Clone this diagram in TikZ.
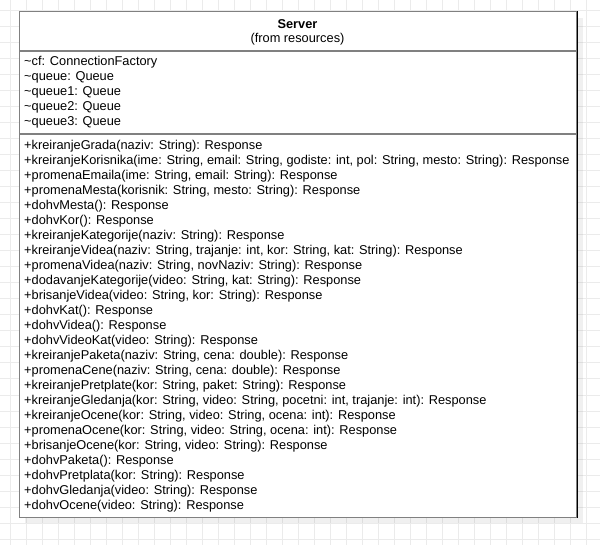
\documentclass[tikz,border=0pt]{standalone}
\usepackage{fontspec}
\setmainfont{Liberation Sans}
\begin{document}
\begin{tikzpicture}[x=1pt,y=-1pt,
  gridline/.style={draw=black!8, line width=1pt},
  classbox/.style={draw=black!50, line width=1.4pt, fill=white, inner sep=0pt, anchor=north west},
  sepline/.style={draw=black!50, line width=1.4pt},
  member/.style={anchor=base west, inner sep=0pt, font=\fontsize{12.8}{15}\selectfont},
  heading/.style={inner sep=0pt, font=\fontsize{12.8}{15}\selectfont}]
\useasboundingbox (0,0) rectangle (600,545);
\fill[white] (0,0) rectangle (600,545);
% background grid
\foreach \i in {0,...,36} \draw[gridline] ({10.7+16*\i},0) -- ({10.7+16*\i},545);
\foreach \j in {0,...,33} \draw[gridline] (0,{11+16*\j}) -- (600,{11+16*\j});
% drop shadow
\fill[black, opacity=0.06] (25,18) rectangle (582.5,523);
% class box
\node[classbox, minimum width=557pt, minimum height=506pt] (server) at (19,11) {};
\draw[black, line width=0.9pt] (server.north east) -- (server.south east);
\coordinate (hdr) at (0,51);
\coordinate (att) at (0,134);
\draw[sepline] (server.west |- hdr) -- (server.east |- hdr);
\draw[sepline] (server.west |- att) -- (server.east |- att);
% name compartment
\node[heading, font=\fontsize{12.8}{15}\selectfont\bfseries] (title) at (297.5,24) {Server};
\node[heading] (pkg) at (297.5,39.5) {(from resources)};
% attributes
\foreach \t [count=\i from 0] in {{\textasciitilde cf: ConnectionFactory},{\textasciitilde queue: Queue},{\textasciitilde queue1: Queue},{\textasciitilde queue2: Queue},{\textasciitilde queue3: Queue}}
  \node[member] (a\i) at (24,{66+14.8*\i}) {\t};
% operations
\foreach \t [count=\i from 0] in {
  {+kreiranjeGrada(naziv: String): Response},
  {+kreiranjeKorisnika(ime: String, email: String, godiste: int, pol: String, mesto: String): Response},
  {+promenaEmaila(ime: String, email: String): Response},
  {+promenaMesta(korisnik: String, mesto: String): Response},
  {+dohvMesta(): Response},
  {+dohvKor(): Response},
  {+kreiranjeKategorije(naziv: String): Response},
  {+kreiranjeVidea(naziv: String, trajanje: int, kor: String, kat: String): Response},
  {+promenaVidea(naziv: String, novNaziv: String): Response},
  {+dodavanjeKategorije(video: String, kat: String): Response},
  {+brisanjeVidea(video: String, kor: String): Response},
  {+dohvKat(): Response},
  {+dohvVidea(): Response},
  {+dohvVideoKat(video: String): Response},
  {+kreiranjePaketa(naziv: String, cena: double): Response},
  {+promenaCene(naziv: String, cena: double): Response},
  {+kreiranjePretplate(kor: String, paket: String): Response},
  {+kreiranjeGledanja(kor: String, video: String, pocetni: int, trajanje: int): Response},
  {+kreiranjeOcene(kor: String, video: String, ocena: int): Response},
  {+promenaOcene(kor: String, video: String, ocena: int): Response},
  {+brisanjeOcene(kor: String, video: String): Response},
  {+dohvPaketa(): Response},
  {+dohvPretplata(kor: String): Response},
  {+dohvGledanja(video: String): Response},
  {+dohvOcene(video: String): Response}}
  \node[member] (m\i) at (24,{149.5+15*\i}) {\t};
\end{tikzpicture}
\end{document}
